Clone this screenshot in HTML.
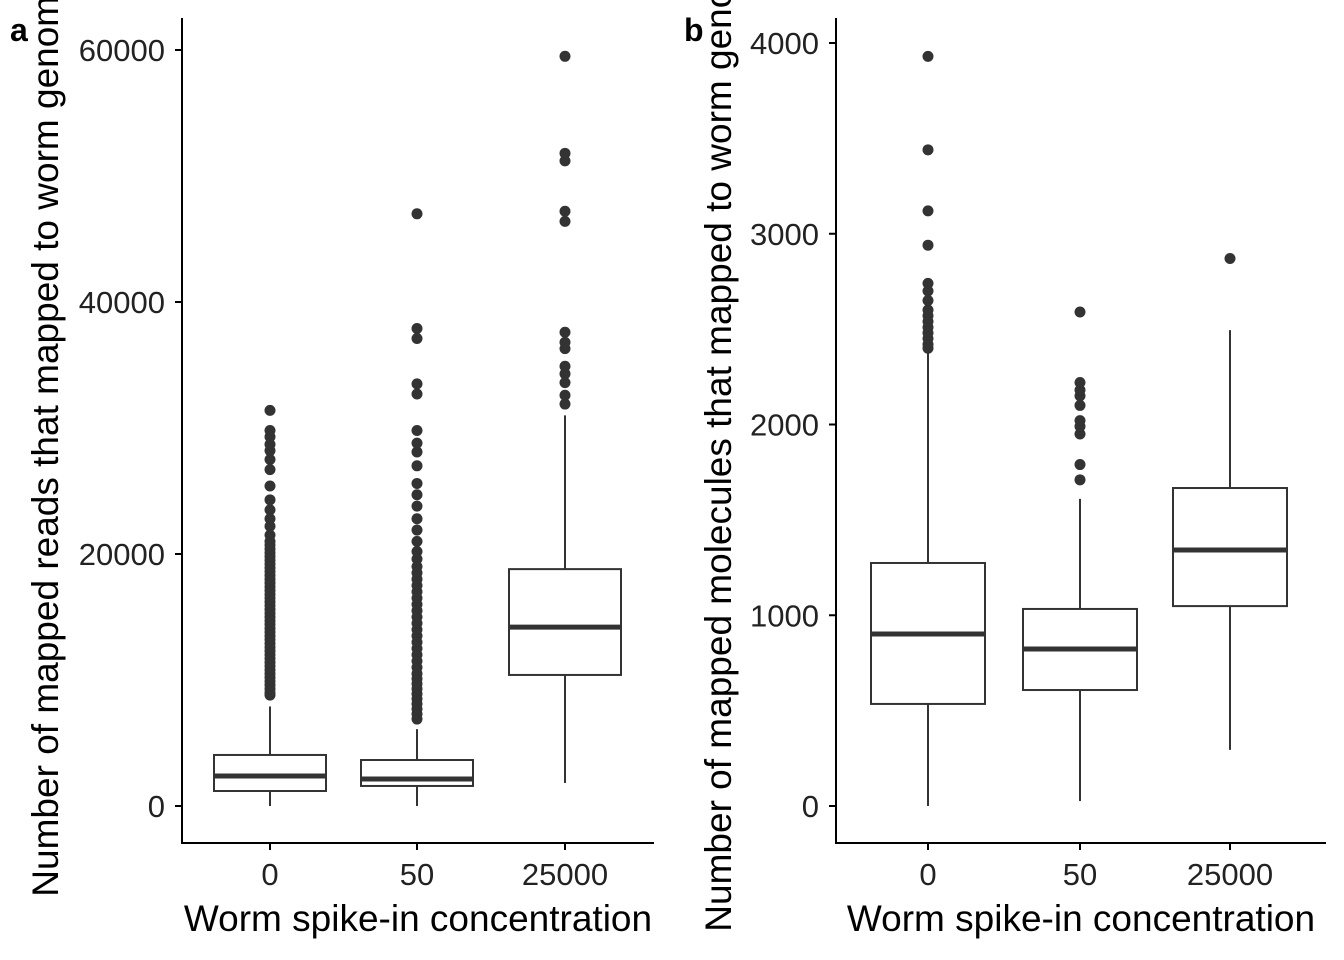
<!DOCTYPE html>
<html><head><meta charset="utf-8"><style>
html,body{margin:0;padding:0;background:#fff;}
svg{display:block;font-family:"Liberation Sans",Arial,sans-serif;}
</style></head><body>
<svg id="chart" width="1344" height="960" viewBox="0 0 1344 960"></svg>
<script>
const categories = ["0","50","25000"];
// panel a: reads
const aTicks = [0,20000,40000,60000];
const aQ1 = [1190,1590,10400];
const aMed = [2380,2140,14200];
const aQ3 = [4050,3650,18800];
const aLow = [0,0,1830];
const aHigh = [7900,6100,31000];
const aOut0 = [8800,9000,9300,9600,9900,10200,10500,10800,11100,11400,11700,12000,12300,12600,12900,13200,13500,13800,14100,14400,14700,15000,15300,15600,15900,16200,16500,16800,17100,17400,17700,18000,18300,18600,18900,19200,19500,19800,20100,20400,20700,21000,21500,22200,22800,23500,24300,25400,26700,27500,28200,28700,29300,29800,31400];
const aOut1 = [6900,7300,7700,8100,8500,8900,9300,9700,10100,10500,11000,11500,12000,12500,13000,13500,14000,14500,15000,15500,16000,16500,17000,17500,18000,18500,19000,19600,20200,21000,21900,22800,23800,24700,25600,27000,28100,28800,29800,32700,33500,37100,37900,47000];
const aOut2 = [31900,32600,33600,34300,34900,36300,36800,37600,46400,47200,51200,51800,59500];
// panel b: molecules
const bTicks = [0,1000,2000,3000,4000];
const bQ1 = [535,608,1048];
const bMed = [902,823,1342];
const bQ3 = [1274,1033,1667];
const bLow = [0,26,294];
const bHigh = [2380,1610,2495];
const bOut0 = [2400,2420,2450,2480,2510,2540,2570,2600,2650,2700,2740,2940,3120,3440,3930];
const bOut1 = [1710,1790,1950,1990,2020,2100,2150,2180,2220,2590];
const bOut2 = [2870];

const svg = document.getElementById('chart');
const NS = 'http://www.w3.org/2000/svg';
function mk(tag, attrs, parent){const e=document.createElementNS(NS,tag);for(const k in attrs)e.setAttribute(k,attrs[k]);(parent||svg).appendChild(e);return e;}

function panel(p){
  const g = mk('g',{});
  
  
  const y = v => p.y0 - (v - 0) * p.ppu;
  const x = i => p.xs[i];
  const ax = mk('path',{d:`M${p.axX},${p.top}V${p.axY}H${p.right}`,stroke:'#000','stroke-width':2,fill:'none'},g);
  
  
  p.ticks.forEach(t=>{
    mk('line',{x1:p.axX-7,x2:p.axX,y1:y(t),y2:y(t),stroke:'#000','stroke-width':2},g);
    const tx = mk('text',{x:p.axX-17,y:y(t)+11,'text-anchor':'end','font-size':31,fill:'#222'},g);
    tx.textContent = t;
    
    
  });
  categories.forEach((c,i)=>{
    mk('line',{x1:x(i),x2:x(i),y1:p.axY,y2:p.axY+7,stroke:'#000','stroke-width':2},g);
    const tx = mk('text',{x:x(i),y:p.axY+42,'text-anchor':'middle','font-size':31,fill:'#222'},g);
    tx.textContent = c;
    
    
    const bg = mk('g',{},g);
    
    
    mk('line',{x1:x(i),x2:x(i),y1:y(p.low[i]),y2:y(p.q1[i]),stroke:'#333','stroke-width':2},bg);
    mk('line',{x1:x(i),x2:x(i),y1:y(p.q3[i]),y2:y(p.high[i]),stroke:'#333','stroke-width':2},bg);
    mk('rect',{x:x(i)-p.bw/2,y:y(p.q3[i]),width:p.bw,height:y(p.q1[i])-y(p.q3[i]),fill:'#fff',stroke:'#333','stroke-width':2},bg);
    mk('line',{x1:x(i)-p.bw/2,x2:x(i)+p.bw/2,y1:y(p.med[i]),y2:y(p.med[i]),stroke:'#333','stroke-width':5},bg);
    p.outs[i].forEach(v=>{
      const d = mk('circle',{cx:x(i),cy:y(v),r:5.5,fill:'#333'},bg);
      
      
    });
  });
  const xt = mk('text',{x:(p.axX+p.right)/2,y:931,'text-anchor':'middle','font-size':37,fill:'#000'},g);
  xt.textContent = 'Worm spike-in concentration';
  
  
  const yt = mk('text',{x:0,y:0,'text-anchor':'middle','font-size':37,fill:'#000',transform:`translate(${p.ytX},${p.ytY}) rotate(-90)`},g);
  yt.textContent = p.ytitle;
  
  
  const lab = mk('text',{x:p.labX,y:41,'font-size':32,'font-weight':'bold',fill:'#000'},g);
  lab.textContent = p.label;
  
  
}
panel({name:'panel-a',axX:182,axY:843,top:18,right:654,y0:806,ppu:252/20000,xs:[270,417,565],bw:112,
  ticks:aTicks,q1:aQ1,med:aMed,q3:aQ3,low:aLow,high:aHigh,outs:[aOut0,aOut1,aOut2],
  ytX:58,ytY:436,ytitle:'Number of mapped reads that mapped to worm genome',label:'a',labX:10});
panel({name:'panel-b',axX:836,axY:843,top:18,right:1326,y0:806,ppu:190.75/1000,xs:[928,1080,1230],bw:114,
  ticks:bTicks,q1:bQ1,med:bMed,q3:bQ3,low:bLow,high:bHigh,outs:[bOut0,bOut1,bOut2],
  ytX:731,ytY:434,ytitle:'Number of mapped molecules that mapped to worm genome',label:'b',labX:684});
</script>
</body></html>
